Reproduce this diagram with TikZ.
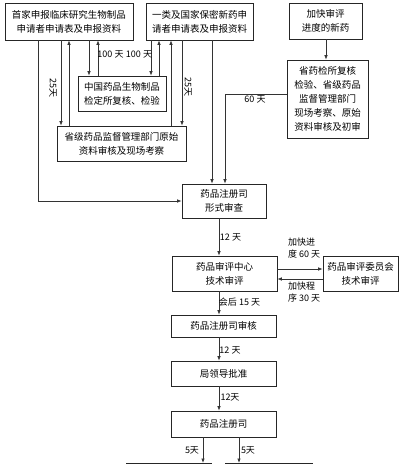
\documentclass[tikz,border=0pt]{standalone}
\usepackage{fontspec}
\setmainfont{Noto Sans CJK SC}
\usetikzlibrary{arrows.meta}

\begin{document}
\begin{tikzpicture}[
    x=1pt, y=-1pt,
    font=\fontsize{9.5}{14}\selectfont,
    box/.style={draw=black!85, line width=0.7pt, align=center, inner sep=0pt},
    arr/.style={draw=black!80, line width=0.7pt, -{Latex[length=4.5pt,width=3.5pt]}},
    lbl/.style={font=\fontsize{9}{12}\selectfont, inner sep=0pt, align=left},
  ]
  \useasboundingbox (0,0) rectangle (400,464);
  \clip (0,0) rectangle (400,464);

  % applicants
  \node[box, minimum width=128pt, minimum height=37pt] (apply1) at (69,21.5)
    {首家申报临床研究生物制品\\申请者申请表及申报资料};
  \node[box, minimum width=107pt, minimum height=37pt] (apply2) at (199.5,21.5)
    {一类及国家保密新药申\\请者申请表及申报资料};
  \node[box, minimum width=73pt, minimum height=36pt] (fast) at (325.5,21)
    {加快审评\\进度的新药};

  % checks
  \node[box, minimum width=88pt, minimum height=35pt] (nicpbp) at (122,93.5)
    {中国药品生物制品\\检定所复核、检验};
  \node[box, minimum width=129pt, minimum height=35pt] (provfda) at (121.5,143.5)
    {省级药品监督管理部门原始\\资料审核及现场考察};
  \node[box, minimum width=81pt, minimum height=78pt] (prov) at (327.5,99)
    {省药检所复核\\检验、省级药品\\监督管理部门\\现场考察、原始\\资料审核及初审};

  % main column
  \node[box, minimum width=84pt, minimum height=34pt] (formal) at (224,201)
    {药品注册司\\形式审查};
  \node[box, minimum width=105pt, minimum height=35pt] (tech) at (224.5,273.5)
    {药品审评中心\\技术审评};
  \node[box, minimum width=75pt, minimum height=35pt] (committee) at (360.5,273.5)
    {药品审评委员会\\技术审评};
  \node[box, minimum width=105pt, minimum height=22pt] (check) at (223.5,326)
    {药品注册司审核};
  \node[box, minimum width=105pt, minimum height=25pt] (approve) at (223.5,373.5)
    {局领导批准};
  \node[box, minimum width=105pt, minimum height=26pt] (issue) at (223.5,424)
    {药品注册司};
  \node[box, anchor=north, minimum width=85pt, minimum height=30pt] (out1) at (168.5,463) {};
  \node[box, anchor=north, minimum width=87pt, minimum height=30pt] (out2) at (268.5,463) {};

  % to and from the checks
  \foreach \xd/\xu/\src/\dst in {61/69/apply1/provfda, 89/98/apply1/nicpbp,
                                 151/159/apply2/nicpbp, 182/171/apply2/provfda} {
    \draw[arr] (\src.south -| \xd,0) -- (\dst.north -| \xd,0);
    \draw[arr] (\dst.north -| \xu,0) -- (\src.south -| \xu,0);
  }
  \draw[arr] (apply1.south -| 38,0) |- (formal.west);
  \draw[arr] (apply2.south -| 212,0) -- (formal.north -| 212,0);
  \draw[arr] (fast.south -| 326,0) -- (prov.north -| 326,0);
  \draw[arr] (prov.west |- 0,94) -| (formal.north -| 225,0);

  % down the main column
  \foreach \u/\v in {formal/tech, tech/check, check/approve, approve/issue}
    \draw[arr] (\u.south -| 219,0) -- (\v.north -| 219,0);
  \draw[arr] (tech.east |- 0,269) -- (committee.west |- 0,269);
  \draw[arr] (committee.west |- 0,279) -- (tech.east |- 0,279);
  \draw[arr] (issue.south -| 203,0) -- (out1.north -| 203,0);
  \draw[arr] (issue.south -| 239,0) -- (out2.north -| 239,0);

  % day labels
  \node[lbl, rotate=-90] (d25a) at (53,88) {25天};
  \node[lbl, rotate=-90] (d25b) at (188,87) {25天};
  \node[lbl] (d100a) at (110.5,54) {100 天};
  \node[lbl] (d100b) at (139,54) {100 天};
  \node[lbl] (d60) at (255,99) {60 天};
  \node[lbl] (d12a) at (230.5,237) {12 天};
  \node[lbl, anchor=west] (speed) at (288,248) {加快进\\度 60 天};
  \node[lbl, anchor=west] (proc) at (288,292) {加快程\\序 30 天};
  \node[lbl] (d15) at (239.5,302) {会后 15 天};
  \node[lbl] (d12b) at (230,350) {12 天};
  \node[lbl] (d12c) at (230,397) {12天};
  \node[lbl] (d5a) at (192,450) {5天};
  \node[lbl] (d5b) at (248,450) {5天};

\end{tikzpicture}
\end{document}
